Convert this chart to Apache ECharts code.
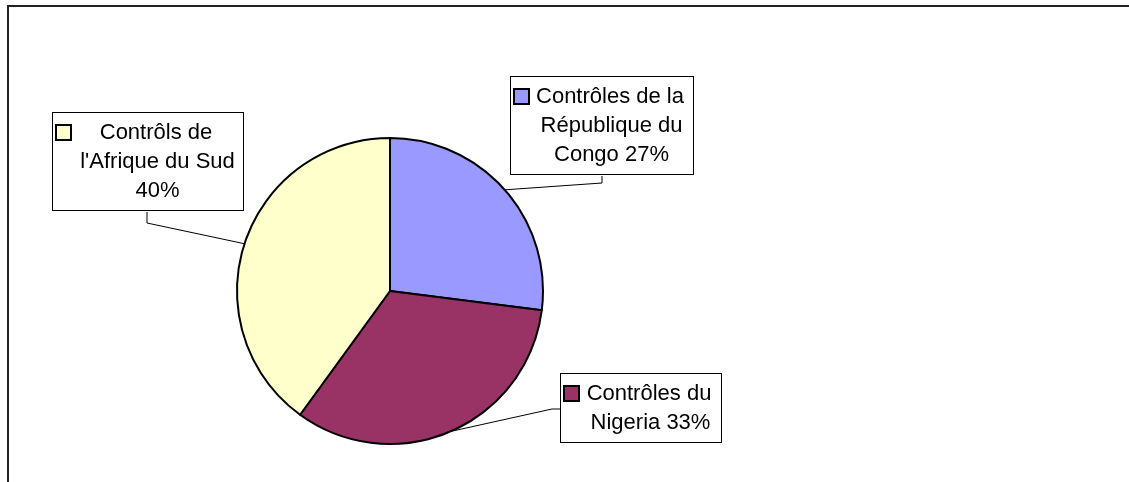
<!DOCTYPE html>
<html>
<head>
<meta charset="utf-8">
<style>
  html, body { margin: 0; padding: 0; background: #fff; }
  #frame {
    position: absolute; left: 7px; top: 5px; width: 1140px; height: 500px;
    border-top: 2px solid #222; border-left: 2px solid #222; box-sizing: border-box;
  }
  #chart { position: absolute; left: 0; top: 0; width: 1129px; height: 482px; }
</style>
<script src="https://cdn.jsdelivr.net/npm/echarts@6/dist/echarts.min.js"></script>
</head>
<body>
<div id="frame"></div>
<div id="chart"></div>
<script>
// data, clockwise from 12 o'clock
const names = [
  'Contrôles de la République du Congo',
  'Contrôles du Nigeria',
  "Contrôls de l'Afrique du Sud",
]
const values = [27, 33, 40]
const colors = ['#9999FF', '#993366', '#FFFFCC']
// how each label wraps, as in the reference
const labelLines = [
  ['Contrôles de la', 'République du', 'Congo 27%'],
  ['Contrôles du', 'Nigeria 33%'],
  ['Contrôls de', "l'Afrique du Sud", '40%'],
]

// label box placement (top-left) and width
const boxPos = [[511, 77], [561, 374], [53, 113]]
const boxWidth = [182, 160, 190]
const PAD = [5, 5, 5, 4]
const LINE_H = 29

const chart = echarts.init(document.getElementById('chart'))

function labelFormatter(p) {
  const lines = labelLines[p.dataIndex]
  return lines
    .map((l, i) => (i === 0 ? '{m' + p.dataIndex + '|}{g|}' : '{s|}') + '{t|' + l + '}')
    .join('\n')
}

const rich = {
  g: { width: 4, height: LINE_H, align: 'left' },
  s: { width: 20, height: LINE_H, align: 'left' },
  t: {
    fontSize: 22, lineHeight: LINE_H, color: '#000',
    fontFamily: 'Liberation Sans, Arial, sans-serif', align: 'center',
  },
}
colors.forEach((c, i) => {
  rich['m' + i] = {
    width: 13, height: 13, backgroundColor: c,
    borderColor: '#000', borderWidth: 2, align: 'left', verticalAlign: 'middle',
  }
})

chart.setOption({
  animation: false,
  series: [{
    type: 'pie',
    center: [390, 291],
    radius: 153,
    startAngle: 90,
    clockwise: true,
    avoidLabelOverlap: false,
    data: names.map((n, i) => ({
      name: n,
      value: values[i],
      itemStyle: { color: colors[i] },
      label: { width: boxWidth[i] - PAD[1] - PAD[3] },
    })),
    itemStyle: { borderColor: '#000', borderWidth: 2 },
    emphasis: { disabled: true },
    label: {
      show: true,
      position: 'outside',
      formatter: labelFormatter,
      backgroundColor: '#fff',
      borderColor: '#000',
      borderWidth: 1,
      padding: PAD,
      rich: rich,
    },
    labelLine: { show: true, lineStyle: { color: '#000', width: 1 } },
    labelLayout: (params) => {
      const i = params.dataIndex
      const [x, y] = boxPos[i]
      const h = params.labelRect.height
      const anchor = params.labelLinePoints ? params.labelLinePoints[0] : null
      let pts
      if (anchor) {
        if (i === 1) {
          const my = y + h / 2
          pts = [anchor, [x - 9, my], [x, my]]
        } else {
          const lx = x + (i === 0 ? 91 : 94)
          const by = y + h
          pts = [anchor, [lx, by + (i === 0 ? 7 : 11)], [lx, by]]
        }
      }
      return { x, y, align: 'left', verticalAlign: 'top', labelLinePoints: pts }
    },
  }],
})
</script>
</body>
</html>
